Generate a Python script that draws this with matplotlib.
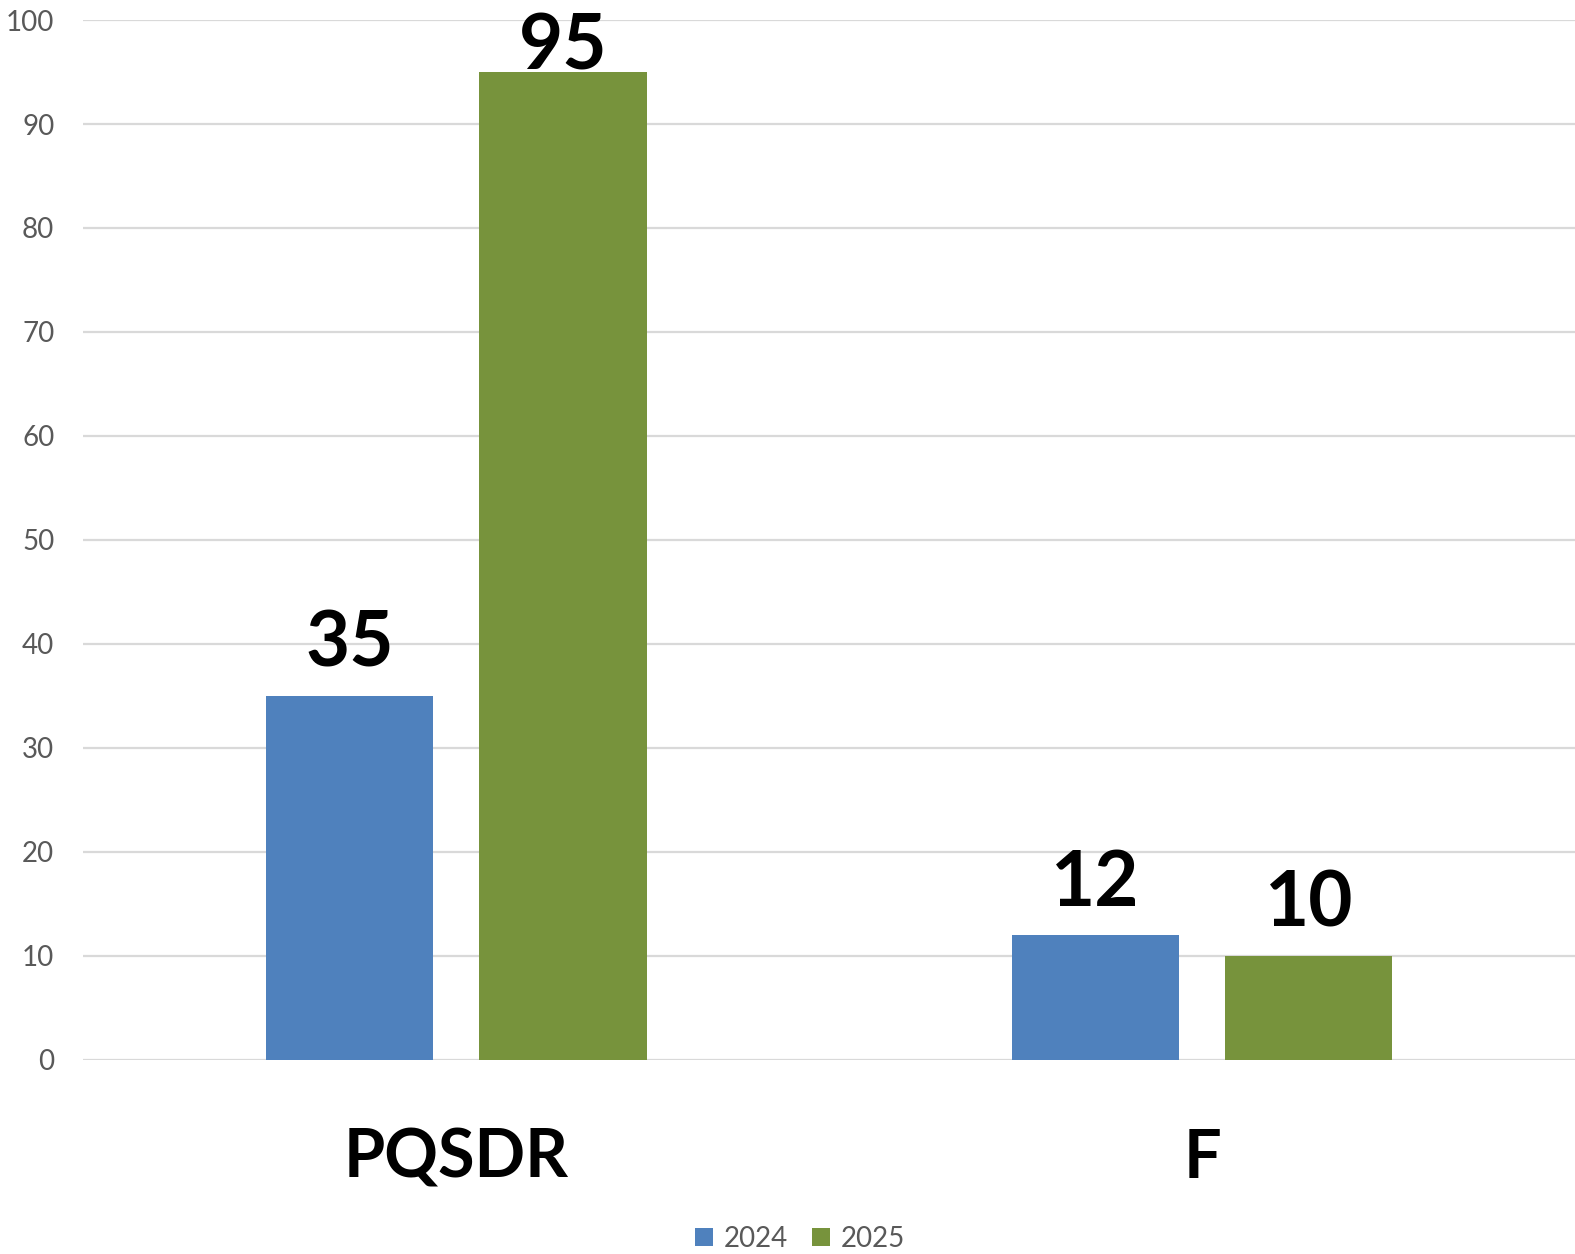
import matplotlib.pyplot as plt
import numpy as np

# --- data ---
categories = ['PQSDR', 'F']
series_names = ['2024', '2025']
values_2024 = [35, 12]
values_2025 = [95, 10]
colors = ['#4F81BD', '#77933C']

plt.rcParams['font.family'] = ['Lato', 'DejaVu Sans']

fig = plt.figure(figsize=(15.75, 12.54), dpi=100)
ax = fig.add_axes([0.053, 0.155, 0.947, 0.829])

x = np.arange(len(categories))
width = 0.224
offset = 0.143

for vals, name, col, sign in [(values_2024, series_names[0], colors[0], -1),
                              (values_2025, series_names[1], colors[1], 1)]:
    bars = ax.bar(x + sign * offset, vals, width, color=col, label=name, zorder=3)
    for b, v in zip(bars, vals):
        dy = 2 if v > 90 else 21
        ax.annotate(str(v), (b.get_x() + b.get_width() / 2, v),
                    xytext=(0, dy), textcoords='offset points',
                    ha='center', va='baseline', fontsize=55, fontweight='bold',
                    color='black', annotation_clip=False)

ax.set_xlim(-0.5, 1.5)
ax.set_ylim(0, 100)
ax.set_yticks(range(0, 101, 10))
ax.set_xticks(x)
ax.set_xticklabels(categories, fontsize=48, fontweight='bold')
ax.tick_params(axis='x', length=0, pad=49)
ax.tick_params(axis='y', length=0, pad=21, labelsize=20, labelcolor='#595959')

ax.grid(axis='y', color='#D9D9D9', linewidth=1.6, zorder=0)
for s in ax.spines.values():
    s.set_visible(False)

leg = fig.legend(loc='lower center', bbox_to_anchor=(0.508, -0.018), ncol=2,
                 frameon=False, fontsize=20, handlelength=0.65, handleheight=0.65,
                 columnspacing=0.85, handletextpad=0.4)
for t in leg.get_texts():
    t.set_color('#595959')

fig.savefig('out.png', dpi=100)
